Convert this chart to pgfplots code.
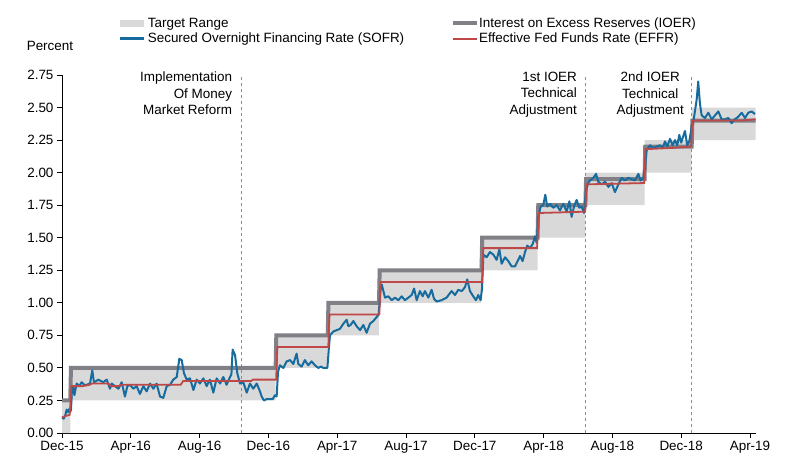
\documentclass[border=0pt]{standalone}
\usepackage{fontspec}
\setmainfont{Liberation Sans}
\usepackage{pgfplots}
\pgfplotsset{compat=1.18}

\definecolor{trange}{RGB}{217,217,217}
\definecolor{ioer}{RGB}{128,128,134}
\definecolor{sofr}{RGB}{22,108,158}
\definecolor{effr}{RGB}{190,72,72}
\definecolor{evline}{RGB}{140,140,140}
\newcommand{\lbl}{\fontsize{13.5}{16.5}\selectfont}

\begin{document}
\begin{tikzpicture}
\path[use as bounding box] (-62bp,-36bp) rectangle (734bp,433bp);
\begin{axis}[
    at={(0,0)}, anchor=south west,
    scale only axis,
    width=694bp, height=358bp,
    xmin=0, xmax=40.35,
    ymin=0, ymax=2.75,
    axis x line*=bottom, axis y line*=left,
    axis line style={black, line width=0.9bp},
    clip=false,
    xtick={0,4,8,12,16,20,24,28,32,36,40},
    xticklabels={Dec-15,Apr-16,Aug-16,Dec-16,Apr-17,Aug-17,Dec-17,Apr-18,Aug-18,Dec-18,Apr-19},
    ytick={0,0.25,0.5,0.75,1,1.25,1.5,1.75,2,2.25,2.5,2.75},
    yticklabel style={/pgf/number format/.cd, fixed, fixed zerofill, precision=2},
    /pgf/number format/assume math mode=true,
    tick align=outside,
    major tick length=5bp,
    tick style={black, line width=0.9bp},
    tick label style={font=\lbl},
    legend columns=2,
    legend cell align=left,
    legend image code/.code={\draw[#1] (0bp,0bp) -- (24bp,0bp);},
    legend style={
        at={(0.078,1.162)}, anchor=north west,
        draw=none, fill=none, inner sep=0pt,
        font=\lbl,
        row sep=3bp,
        nodes={inner sep=0.5bp},
        /tikz/every even column/.append style={column sep=46bp}
    },
]
% legend entries
\addlegendimage{trange, line width=7bp}
\addlegendentry{Target Range}
\addlegendimage{ioer, line width=4bp}
\addlegendentry{Interest on Excess Reserves (IOER)}
\addlegendimage{sofr, line width=2.5bp}
\addlegendentry{Secured Overnight Financing Rate (SOFR)}
\addlegendimage{effr, line width=2bp}
\addlegendentry{Effective Fed Funds Rate (EFFR)}

% target range band
\addplot[fill=trange, draw=none, forget plot] coordinates {
(0,0.25) (0.48,0.25) (0.48,0.5) (12.42,0.5) (12.42,0.75) (15.45,0.75)
(15.45,1.0) (18.43,1.0) (18.43,1.25) (24.39,1.25) (24.39,1.5) (27.65,1.5)
(27.65,1.75) (30.43,1.75) (30.43,2.0) (33.87,2.0) (33.87,2.25) (36.61,2.25)
(36.61,2.5) (40.33,2.5)
(40.33,2.25) (36.61,2.25) (36.61,2.0) (33.87,2.0) (33.87,1.75) (30.43,1.75)
(30.43,1.5) (27.65,1.5) (27.65,1.25) (24.39,1.25) (24.39,1.0) (18.43,1.0)
(18.43,0.75) (15.45,0.75) (15.45,0.5) (12.42,0.5) (12.42,0.25) (0.48,0.25)
(0.48,0) (0,0)
} -- cycle;

% event lines
\addplot[evline, dashed, line width=0.8bp, forget plot] coordinates {(10.45,0) (10.45,2.75)};
\addplot[evline, dashed, line width=0.8bp, forget plot] coordinates {(30.45,0) (30.45,2.75)};
\addplot[evline, dashed, line width=0.8bp, forget plot] coordinates {(36.62,0) (36.62,2.75)};

% IOER
\addplot[ioer, line width=4bp, forget plot] coordinates {
(0,0.25) (0.48,0.25) (0.52,0.5) (12.42,0.5) (12.46,0.75) (15.45,0.75)
(15.49,1.0) (18.43,1.0) (18.47,1.25) (24.39,1.25) (24.43,1.5) (27.65,1.5)
(27.69,1.75) (30.43,1.75) (30.47,1.95) (33.87,1.95) (33.91,2.2) (36.61,2.2)
(36.65,2.4) (40.33,2.4)
};

% SOFR
\addplot[sofr, line width=2bp, line join=round, forget plot] coordinates {
(0.00,0.12) (0.10,0.11) (0.20,0.14) (0.27,0.18) (0.35,0.16) (0.45,0.19)
(0.52,0.17) (0.58,0.34) (0.65,0.36) (0.72,0.29) (0.85,0.38) (1.01,0.36)
(1.14,0.39) (1.30,0.37) (1.43,0.37) (1.63,0.38) (1.76,0.48) (1.86,0.39)
(2.00,0.40) (2.11,0.41) (2.25,0.40) (2.40,0.39) (2.60,0.41) (2.79,0.34)
(2.89,0.38) (3.08,0.36) (3.28,0.34) (3.47,0.39) (3.66,0.28) (3.80,0.36)
(3.95,0.37) (4.15,0.34) (4.34,0.36) (4.53,0.30) (4.73,0.36) (4.92,0.32)
(5.12,0.38) (5.31,0.34) (5.50,0.38) (5.70,0.28) (5.89,0.27) (6.09,0.36)
(6.28,0.37) (6.47,0.41) (6.67,0.43) (6.82,0.57) (6.96,0.56) (7.09,0.46)
(7.25,0.41) (7.44,0.42) (7.64,0.33) (7.83,0.41) (8.02,0.38) (8.22,0.42)
(8.41,0.36) (8.60,0.41) (8.80,0.31) (8.99,0.42) (9.19,0.38) (9.38,0.43)
(9.57,0.37) (9.77,0.43) (9.85,0.45) (9.92,0.64) (10.06,0.60) (10.19,0.46)
(10.35,0.38) (10.54,0.39) (10.74,0.31) (10.93,0.38) (11.12,0.34) (11.32,0.38)
(11.51,0.32) (11.61,0.28) (11.74,0.25) (11.90,0.26) (12.09,0.26) (12.25,0.26)
(12.38,0.29) (12.48,0.28) (12.56,0.47) (12.67,0.52) (12.87,0.50) (13.06,0.55)
(13.26,0.56) (13.45,0.53) (13.64,0.61) (13.74,0.53) (13.93,0.51) (14.12,0.56)
(14.32,0.52) (14.51,0.55) (14.71,0.52) (14.90,0.50) (15.05,0.51) (15.19,0.50)
(15.43,0.50) (15.52,0.66) (15.58,0.75) (15.78,0.78) (15.97,0.79) (16.16,0.80)
(16.36,0.84) (16.55,0.87) (16.65,0.82) (16.78,0.83) (16.94,0.86) (17.13,0.82)
(17.33,0.79) (17.52,0.83) (17.71,0.77) (17.91,0.84) (18.10,0.86) (18.29,0.89)
(18.41,0.91) (18.53,1.12) (18.59,1.14) (18.78,1.04) (18.97,1.05) (19.17,1.02)
(19.36,1.04) (19.55,1.02) (19.75,1.05) (19.94,1.02) (20.14,1.04) (20.33,1.06)
(20.47,1.11) (20.62,1.02) (20.81,1.09) (20.97,1.05) (21.10,1.09) (21.30,1.04)
(21.49,1.10) (21.63,1.03) (21.78,1.01) (22.07,1.02) (22.36,1.04) (22.65,1.09)
(22.85,1.06) (23.04,1.10) (23.24,1.09) (23.43,1.12) (23.56,1.18) (23.72,1.09)
(23.91,1.05) (24.07,1.02) (24.20,1.06) (24.34,1.02) (24.42,1.11) (24.50,1.37)
(24.69,1.35) (24.88,1.39) (25.08,1.37) (25.27,1.33) (25.43,1.41) (25.56,1.30)
(25.76,1.35) (25.95,1.32) (26.14,1.28) (26.34,1.28) (26.53,1.33) (26.63,1.36)
(26.78,1.32) (26.92,1.39) (27.05,1.44) (27.21,1.42) (27.36,1.45) (27.50,1.51)
(27.60,1.46) (27.69,1.66) (27.83,1.74) (27.98,1.75) (28.10,1.83) (28.21,1.74)
(28.37,1.76) (28.56,1.73) (28.76,1.75) (28.95,1.71) (29.15,1.76) (29.34,1.70)
(29.50,1.78) (29.63,1.66) (29.77,1.74) (29.92,1.79) (30.08,1.73) (30.21,1.74)
(30.35,1.69) (30.47,1.87) (30.60,1.92) (30.70,1.94) (30.89,1.96) (31.05,1.99)
(31.18,1.93) (31.38,1.91) (31.57,1.93) (31.77,1.89) (31.96,1.92) (32.15,1.85)
(32.35,1.91) (32.54,1.96) (32.73,1.94) (32.93,1.96) (33.12,1.95) (33.31,1.94)
(33.51,1.99) (33.64,1.94) (33.80,1.96) (33.90,2.05) (33.99,2.17) (34.19,2.21)
(34.38,2.19) (34.57,2.20) (34.77,2.21) (34.92,2.19) (35.06,2.24) (35.19,2.20)
(35.35,2.26) (35.50,2.21) (35.64,2.25) (35.77,2.21) (35.89,2.29) (36.00,2.23)
(36.12,2.28) (36.22,2.32) (36.35,2.21) (36.47,2.24) (36.61,2.35) (36.74,2.42)
(36.90,2.56) (36.99,2.70) (37.09,2.53) (37.19,2.44) (37.38,2.42) (37.58,2.46)
(37.77,2.41) (37.97,2.44) (38.16,2.47) (38.35,2.41) (38.55,2.41) (38.74,2.42)
(38.93,2.38) (39.13,2.41) (39.32,2.43) (39.52,2.46) (39.71,2.42) (39.90,2.46)
(40.10,2.47) (40.29,2.45)
};

% EFFR
\addplot[effr, line width=1.8bp, forget plot] coordinates {
(0,0.12) (0.2,0.13) (0.45,0.14) (0.55,0.36) (1.2,0.36) (1.6,0.37) (1.75,0.38)
(2.7,0.38) (2.85,0.36) (3.3,0.36) (3.45,0.37) (6.9,0.37) (7.05,0.40) (11.0,0.40)
(11.1,0.41) (12.45,0.41) (12.52,0.66) (15.48,0.66) (15.55,0.91) (18.45,0.91)
(18.52,1.16) (24.42,1.16) (24.5,1.42) (27.62,1.42) (27.72,1.69) (30.42,1.70)
(30.5,1.91) (33.85,1.92) (33.92,2.18) (35.5,2.19) (36.58,2.20) (36.66,2.40)
(39.5,2.40) (40.33,2.41)
};

% annotations
\node[anchor=north east, align=right, inner sep=0pt, font=\lbl] at (axis cs:9.9,2.775)
  {Implementation\\Of Money\\Market Reform};
\node[anchor=north east, align=right, inner sep=0pt, font=\lbl] at (axis cs:29.95,2.775)
  {1st IOER\\Technical\\Adjustment};
\node[anchor=north, align=center, inner sep=0pt, font=\lbl] at (axis cs:34.2,2.775)
  {2nd IOER\\Technical\\Adjustment};
\node[font=\lbl] at (axis cs:-0.7,2.97) {Percent};
\end{axis}
\end{tikzpicture}
\end{document}
